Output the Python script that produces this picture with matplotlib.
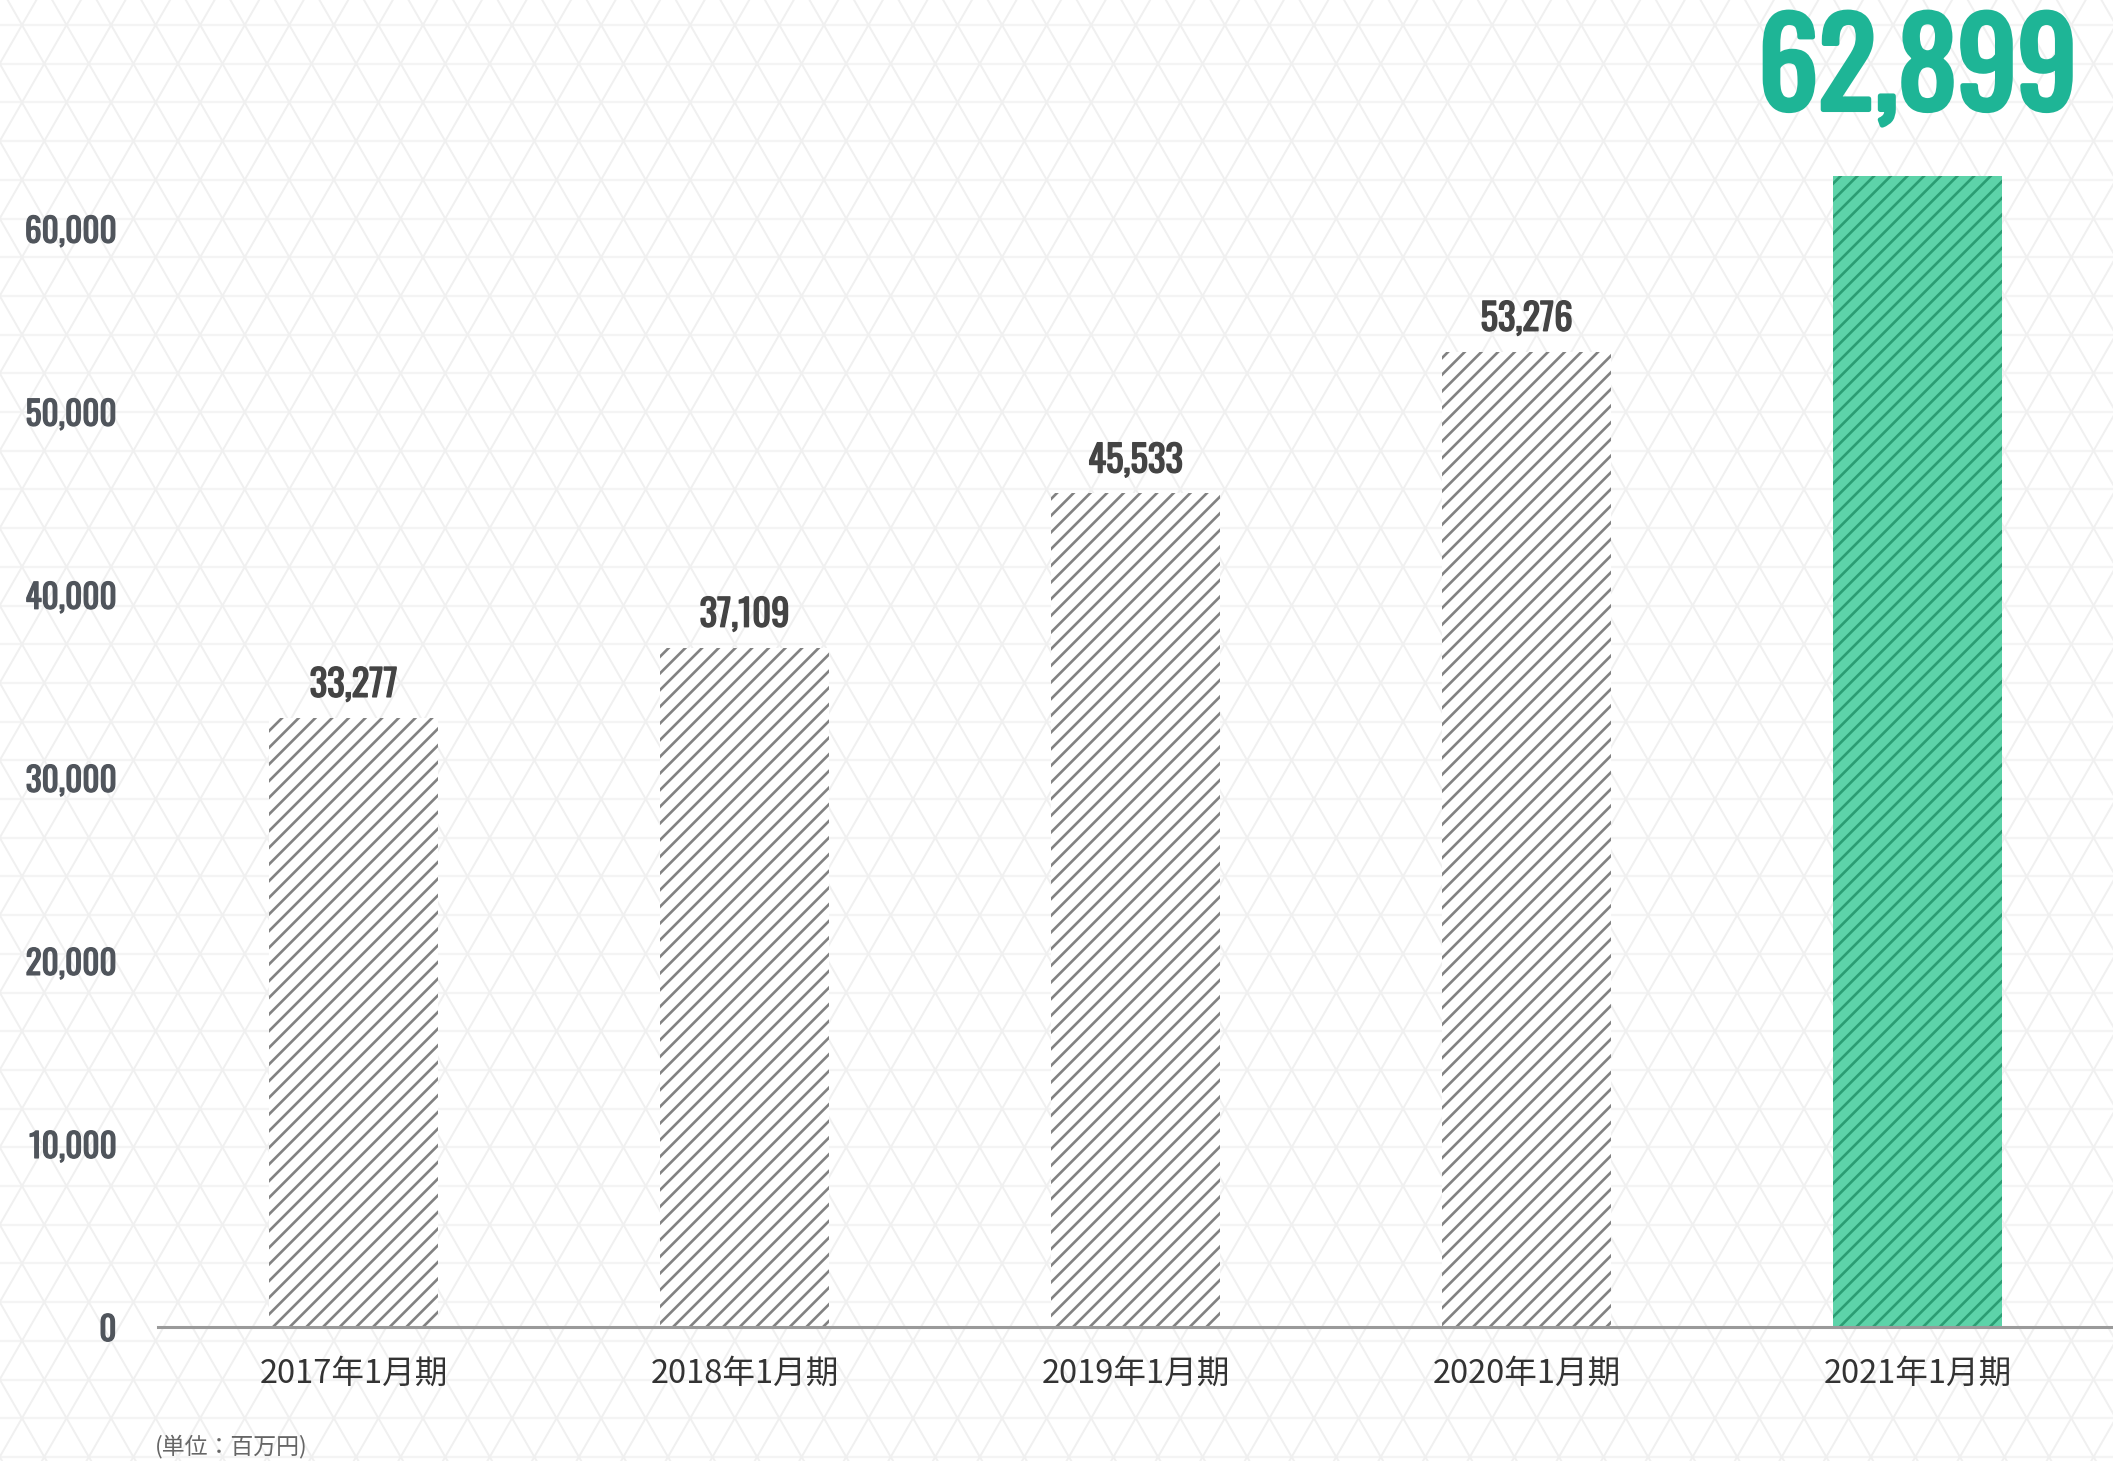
import matplotlib
matplotlib.use("Agg")
import matplotlib.pyplot as plt
import matplotlib.patheffects as pe
import numpy as np
from matplotlib.ticker import FuncFormatter

# 売上高の推移 (単位：百万円)
periods = ["2017年1月期", "2018年1月期", "2019年1月期", "2020年1月期", "2021年1月期"]
sales = [33277, 37109, 45533, 53276, 62899]
yticks = [0, 10000, 20000, 30000, 40000, 50000, 60000]
unit_note = "(単位：百万円)"

W, H = 2113, 1461
DPI = 100
NUM_FONT = ["Oswald", "Liberation Sans Narrow", "DejaVu Sans"]
JP_FONT = ["Noto Sans CJK JP", "DejaVu Sans"]


def heavy(color, w):
    # thicken the (variable, regular-weight) numeral font with an outline
    return [pe.withStroke(linewidth=w, foreground=color)]


plt.rcParams["hatch.linewidth"] = 1.9

fig = plt.figure(figsize=(W / DPI, H / DPI), dpi=DPI, facecolor="white")

# triangular lattice backdrop
bg = fig.add_axes([0, 0, 1, 1], zorder=-5)
bg.set_xlim(0, W)
bg.set_ylim(H, 0)
bg.axis("off")
side = 44.55
row = 38.7
for y in np.arange(25 - row, H + row, row):
    bg.plot([0, W], [y, y], color="#f4f4f4", lw=1.6)
y0, y1 = 25 - 2 * row, H + 2 * row
dx = (y1 - y0) * (side / 2) / row
for x in np.arange(22 - 60 * side, W + 60 * side, side):
    bg.plot([x, x + dx], [y0, y1], color="#f0f0f0", lw=1.4)
    bg.plot([x, x - dx], [y0, y1], color="#f0f0f0", lw=1.4)

ax = fig.add_axes([158 / W, (H - 1327) / H, 1 - 158 / W, 1318 / H])
ax.set_facecolor("none")

x = np.arange(len(periods))
fills = ["white"] * 4 + ["#5dd3a9"]
stripes = ["#828282"] * 4 + ["#2b9d73"]
bars = ax.bar(x, sales, width=0.43, color=fills, edgecolor=stripes,
              hatch="//", linewidth=0, zorder=2)

ax.set_xlim(-0.5, 4.5)
ax.set_ylim(0, 72000)

for spine in ["top", "right", "left"]:
    ax.spines[spine].set_visible(False)
ax.spines["bottom"].set_color("#9a9a9a")
ax.spines["bottom"].set_linewidth(2.2)
ax.spines["bottom"].set_zorder(3)

ax.set_yticks(yticks)
ax.yaxis.set_major_formatter(FuncFormatter(lambda v, _: f"{int(v):,}"))
ax.tick_params(axis="y", length=0, pad=30)
for lab in ax.get_yticklabels():
    lab.set_fontfamily(NUM_FONT)
    lab.set_fontsize(24)
    lab.set_color("#50555c")
    lab.set_path_effects(heavy("#50555c", 0.9))

ax.set_xticks(x)
ax.set_xticklabels(periods)
ax.tick_params(axis="x", length=0, pad=22)
for lab in ax.get_xticklabels():
    lab.set_fontfamily(JP_FONT)
    lab.set_fontsize(23.5)
    lab.set_color("#333333")

# value labels
for xi, v in zip(x[:-1], sales[:-1]):
    ax.annotate(f"{v:,}", (xi, v), xytext=(0, 21), textcoords="offset pixels",
                ha="center", va="baseline", fontsize=26.5, family=NUM_FONT,
                color="#444444", zorder=4, path_effects=heavy("#444444", 1.0))
ax.annotate(f"{sales[-1]:,}", (x[-1], sales[-1]), xytext=(0, 66),
            textcoords="offset pixels", ha="center", va="baseline",
            fontsize=86, family=NUM_FONT, color="#1eb596", zorder=4,
            path_effects=heavy("#1eb596", 3.5))

fig.text(155 / W, 1 - 1446 / H, unit_note, ha="left", va="center",
         fontsize=16.5, family=JP_FONT, color="#666666")

fig.savefig("out.png", dpi=DPI, facecolor="white")
